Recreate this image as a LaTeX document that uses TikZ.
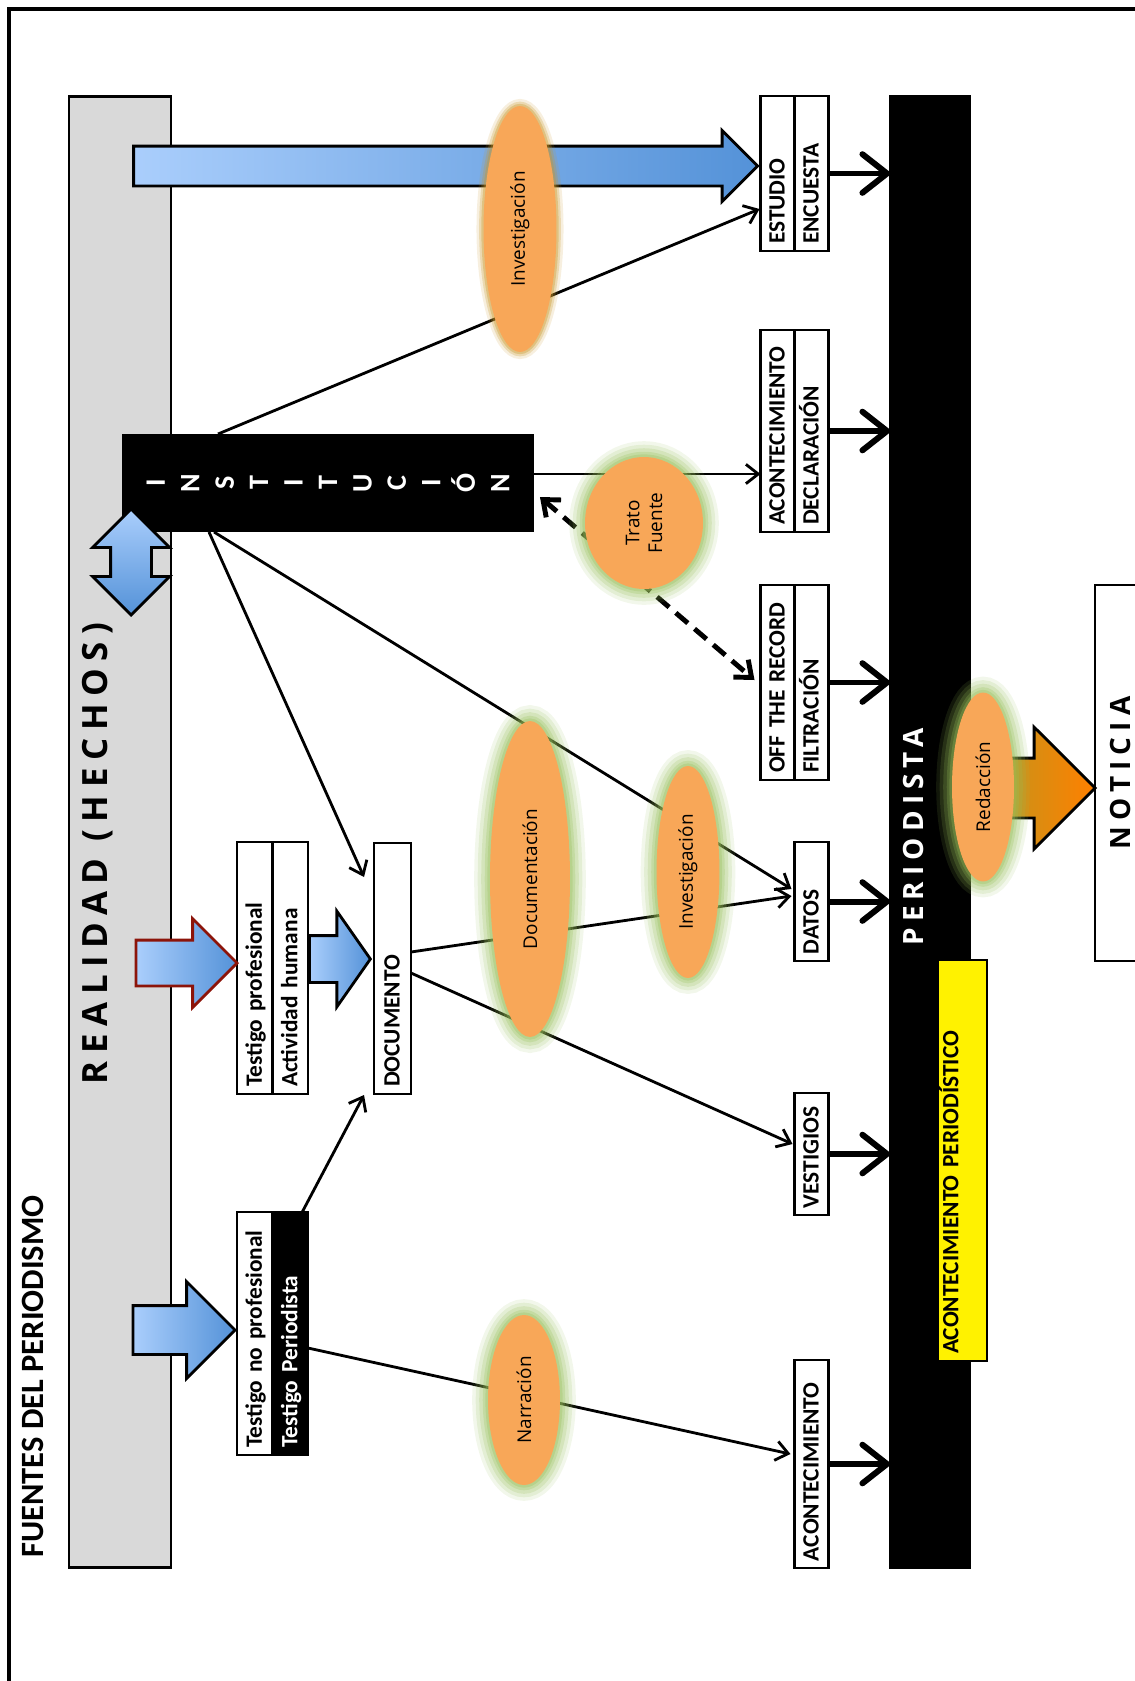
\documentclass[tikz,border=0pt]{standalone}
\usepackage{fontspec}
\setmainfont{Carlito}
\newfontfamily\ovalfont{Open Sans}
\newfontfamily\spacedfont[LetterSpace=22]{Open Sans}
\usetikzlibrary{arrows.meta,positioning,calc}
\usetikzlibrary{shapes.geometric,shapes.arrows}

\definecolor{realgray}{RGB}{217,217,217}
\definecolor{bluelight}{RGB}{170,206,252}
\definecolor{bluedark}{RGB}{84,146,216}
\definecolor{ellorange}{RGB}{248,167,88}
\definecolor{glowgreen}{RGB}{150,190,90}
\definecolor{glowgold}{RGB}{200,150,40}
\definecolor{arrowred}{RGB}{140,20,10}
\definecolor{notorange}{RGB}{255,128,0}
\definecolor{notgold}{RGB}{190,150,30}

\begin{document}
\begin{tikzpicture}[
    x=0.02cm, y=-0.02cm,
    % columns of the source boxes (text written bottom to top)
    colbox/.style={draw, line width=1.6pt, fill=white, rotate=90, outer sep=0pt,
        inner xsep=4pt, inner ysep=0pt, minimum height=0.68cm, align=left,
        text height=9pt, text depth=1pt,
        font=\bfseries\fontsize{13.3}{16}\selectfont},
    bar/.style={draw, line width=1.6pt, outer sep=0pt},
    oval/.style={ellipse, fill=ellorange, rotate=90, inner sep=0pt, align=center,
        font=\ovalfont\fontsize{10.8}{13}\selectfont},
    glow/.style={preaction={draw=#1, line width=18pt, opacity=.12},
        preaction={draw=#1, line width=14pt, opacity=.16},
        preaction={draw=#1, line width=10pt, opacity=.2},
        preaction={draw=#1, line width=6pt, opacity=.25},
        preaction={draw=#1, line width=3pt, opacity=.3}},
    thinglow/.style={preaction={draw=#1, line width=8pt, opacity=.15},
        preaction={draw=#1, line width=5pt, opacity=.25},
        preaction={draw=#1, line width=2.5pt, opacity=.35}},
    blockarrow/.style={single arrow, draw, line width=1.6pt, inner xsep=0pt,
        left color=bluelight, right color=bluedark},
    conn/.style={line width=1.6pt, -{Straight Barb[length=7pt,width=11pt]}},
    bigarrow/.style={line width=3.4pt, -{Straight Barb[length=14pt,width=22pt,round]}},
    spaced/.style={rotate=90, font=\spacedfont\bfseries\fontsize{#1}{#1}\selectfont}
]
\useasboundingbox (0,0) rectangle (1135,1681);
\draw[line width=2pt] (9,9) rectangle (1200,1750);

% ==================== BARS ====================
\node[bar, fill=realgray, minimum width=2.04cm, minimum height=29.44cm] (realidad) at (120,832) {};
\node[bar, fill=black, minimum width=1.6cm, minimum height=29.44cm] (periodista) at (930,832) {};
\node[rotate=90, font=\bfseries\fontsize{18.5}{20}\selectfont] (titulo) at (32.5,1376.5) {FUENTES DEL PERIODISMO};

% ==================== RIGHT COLUMN ====================
\node[colbox, text width=2.82cm] (estudio) at (777.5,173.5) {ESTUDIO};
\node[colbox, text width=2.82cm, below=0pt of estudio] (encuesta) {ENCUESTA};
\node[colbox, text width=3.76cm] (acontA) at (777.5,431) {ACONTECIMIENTO};
\node[colbox, text width=3.76cm, below=0pt of acontA] (declaracion) {DECLARACIÓN};
\node[colbox, text width=3.62cm] (offrecord) at (777.5,682.5) {OFF THE RECORD};
\node[colbox, text width=3.62cm, below=0pt of offrecord] (filtracion) {FILTRACIÓN};
\node[colbox, text width=2.10cm] (datos) at (811.5,901.5) {DATOS};
\node[colbox, text width=2.16cm] (vestigios) at (811.5,1154) {VESTIGIOS};
\node[colbox, text width=3.88cm] (acontB) at (811.5,1464) {ACONTECIMIENTO};

% ==================== LEFT COLUMN ====================
\node[colbox, minimum height=0.71cm, text width=4.76cm] (testigoprof) at (254.75,968) {Testigo profesional};
\node[colbox, minimum height=0.71cm, text width=4.76cm, below=0pt of testigoprof] (actividad) {Actividad humana};
\node[colbox, minimum height=0.71cm, text width=4.58cm] (testigonoprof) at (254.75,1333.5) {Testigo no profesional};
\node[colbox, minimum height=0.71cm, text width=4.58cm, fill=black, text=white,
      below=0pt of testigonoprof] (testigoper) {Testigo Periodista};
\node[colbox, minimum height=0.74cm, text width=4.74cm] (documento) at (392.5,968.5) {DOCUMENTO};

% institution, letters stacked
\node[fill=black, text=white, rotate=90, minimum width=1.96cm, minimum height=8.24cm,
      align=center, inner sep=0pt, outer sep=0pt,
      font=\bfseries\fontsize{16}{19.6}\selectfont] (institucion) at (328,483)
      {I\\N\\S\\T\\I\\T\\U\\C\\I\\Ó\\N};

% ==================== BLOCK ARROWS ====================
\node[blockarrow, anchor=tip, minimum height=12.48cm, inner ysep=0.37cm,
      single arrow head extend=0.31cm] (flecha-estudio) at ($(estudio.north)+(-1,-7.5)$) {};
\node[blockarrow, draw=arrowred, anchor=tip, minimum height=2.02cm, inner ysep=0.43cm,
      single arrow head extend=0.43cm] (flecha-prof) at ($(testigoprof.north)+(2,-5)$) {};
\node[blockarrow, anchor=tail, minimum height=1.22cm, inner ysep=0.44cm,
      single arrow head extend=0.49cm, single arrow tip angle=110] (flecha-doc) at ($(actividad.south)+(0,-9)$) {};
\node[blockarrow, anchor=tip, minimum height=2.04cm, inner ysep=0.46cm,
      single arrow head extend=0.48cm] (flecha-noprof) at ($(testigonoprof.north)+(0,-3.5)$) {};

% ==================== CONNECTORS ====================
\coordinate (inst-top) at ($(institucion.east)+(-110,0)$);
\coordinate (estudio-in) at ($(estudio.north)+(-1,35.5)$);
\coordinate (inst-right) at ($(institucion.south)+(0,-9)$);
\coordinate (acont-in) at (acontA.north |- inst-right);
\coordinate (inst-bot1) at ($(institucion.west)+(-119,0)$);
\coordinate (doc-in) at ($(documento.north east)+(-10,34)$);
\coordinate (inst-bot2) at ($(institucion.west)+(-114,0)$);
\coordinate (datos-in1) at ($(datos.north)+(-3,-12.5)$);
\coordinate (doc-out1) at ($(documento.south)+(0,-16.5)$);
\coordinate (datos-in2) at ($(datos.north)+(-3,-5.5)$);
\coordinate (doc-out2) at ($(documento.south)+(0,4.5)$);
\coordinate (vest-in) at ($(vestigios.north)+(-2,-10)$);
\coordinate (testigo-top) at ($(testigoper.east)+(12,0)$);
\coordinate (doc-in2) at ($(documento.north west)+(-10,1)$);
\coordinate (testigo-right) at ($(testigoper.south)+(0,14.5)$);
\coordinate (acontb-in) at ($(acontB.north)+(-4,-10)$);
\coordinate (inst-dash) at ($(institucion.south)+(6,14)$);
\coordinate (off-in) at ($(offrecord.north)+(-6,-2.5)$);

\foreach \a/\b in {inst-top/estudio-in, inst-right/acont-in, inst-bot1/doc-in, inst-bot2/datos-in1,
                   doc-out1/datos-in2, doc-out2/vest-in, testigo-top/doc-in2, testigo-right/acontb-in}
    \draw[conn] (\a) -- (\b);
\draw[line width=2.8pt, dash pattern=on 9pt off 5pt,
      {Straight Barb[length=8pt,width=13pt]}-{Straight Barb[length=8pt,width=13pt]}] (inst-dash) -- (off-in);

% into the journalist
\foreach \b in {encuesta, declaracion, filtracion, datos, vestigios, acontB}
    \draw[bigarrow] (\b.south) -- (\b.south -| periodista.west);

\node[draw, line width=1.6pt, fill=yellow, rotate=90, outer sep=0pt, inner xsep=4pt, inner ysep=0pt,
      text width=7.74cm, align=left, text height=11.5pt, text depth=16.3pt,
      font=\bfseries\fontsize{13.3}{16}\selectfont] (acontper) at (962.5,1160.5) {ACONTECIMIENTO PERIODÍSTICO};
\node[draw, line width=1.6pt, fill=white, outer sep=0pt, minimum width=7.52cm,
      minimum height=1.0cm, spaced=15.9] (noticia) at (1120,773) {NOTICIA};

\node[double arrow, draw, line width=1.6pt, rotate=90, inner xsep=0pt, inner ysep=0.38cm,
      double arrow head extend=0.36cm, minimum height=2.12cm,
      top color=bluelight, bottom color=bluedark] (flecha-doble) at ($(institucion.north west)+(9,30)$) {};
\node[blockarrow, left color=notgold, middle color=notorange, right color=notorange, anchor=tip,
      minimum height=2.18cm, inner ysep=0.57cm, single arrow head extend=0.62cm]
      (flecha-noticia) at ($(noticia.north)+(2,15)$) {};

% ==================== OVALS ====================
\node[oval, thinglow=glowgold, minimum width=4.92cm, minimum height=1.46cm] (invest1) at (520,229) {Investigación};
\node[oval, glow=glowgreen, minimum width=2.64cm, minimum height=2.36cm] (trato) at (644,523) {Trato\\Fuente};
\node[oval, glow=glowgreen, minimum width=6.32cm, minimum height=1.6cm] (documentacion) at (530,879) {Documentación};
\node[oval, glow=glowgreen, minimum width=4.24cm, minimum height=1.26cm] (invest2) at (688,872) {Investigación};
\node[oval, glow=glowgreen, minimum width=3.4cm, minimum height=1.44cm] (narracion) at (524,1400) {Narración};
\node[oval, glow=glowgreen, minimum width=3.78cm, minimum height=1.24cm] (redaccion) at (983,787) {Redacción};

% labels
\node[spaced=19.8] (realidad-label) at (97.5,853.5) {REALIDAD (HECHOS)};
\node[spaced=15.9, text=white] (periodista-label) at (914,837) {PERIODISTA};
\end{tikzpicture}
\end{document}
